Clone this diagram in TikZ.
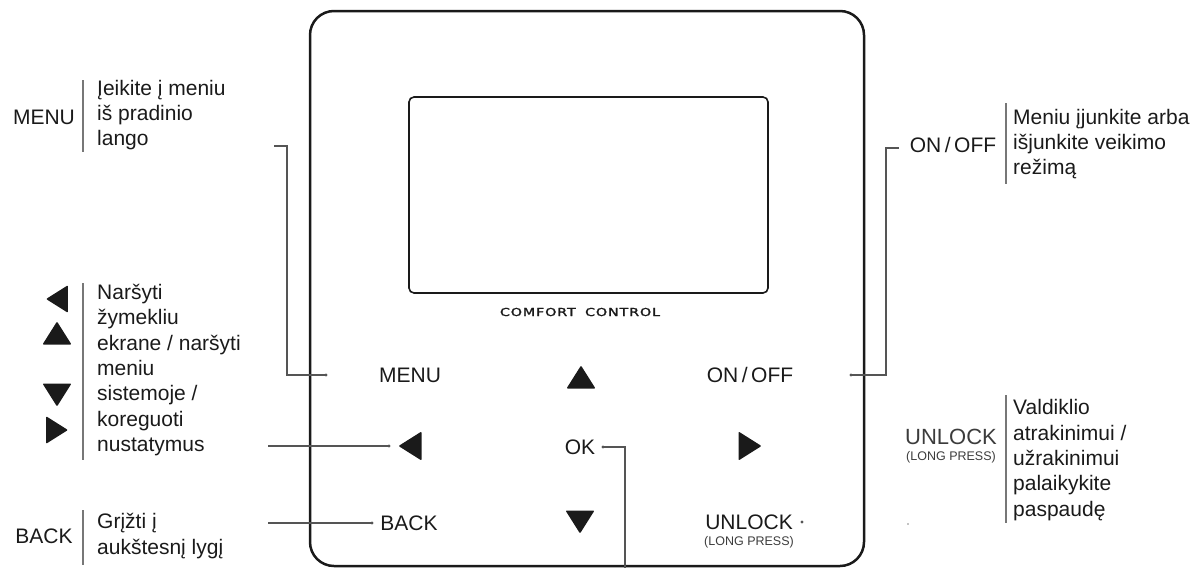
\documentclass[tikz,border=0pt]{standalone}
\usepackage{fontspec}
\setmainfont{Liberation Sans}
\newfontfamily\panelfont[LetterSpace=6, FakeBold=1.6]{DejaVu Sans}
\definecolor{ink}{HTML}{1A1A1A}
\definecolor{lead}{HTML}{555555}
\definecolor{sep}{HTML}{777777}
\definecolor{soft}{HTML}{3C3C3C}

\begin{document}
\begin{tikzpicture}[x=1pt,y=-1pt,
  lbl/.style={font=\fontsize{21}{25.3}\selectfont, text=ink, inner sep=0pt},
  desc/.style={lbl, align=left, anchor=west},
  small/.style={font=\fontsize{12.5}{14}\selectfont, text=soft, inner sep=0pt},
  body/.style={draw=ink, line width=2.5pt, rounded corners=24pt},
  screen/.style={draw=ink, line width=1.6pt, rounded corners=5pt},
  leader/.style={draw=lead, line width=1.1pt},
  divider/.style={draw=sep, line width=1.2pt},
  pics/tri/.style={code={\fill[ink, rounded corners=1pt] (11.5,0) -- (-11.5,14.5) -- (-11.5,-14.5) -- cycle;}},
]
\useasboundingbox (0,0) rectangle (1198,568);

% controller body and display
\draw[body] (310,11) rectangle (864,566);
\draw[screen] (409,97) rectangle (768,293);
\node[inner sep=0pt, text=ink] (brand) at (580,312)
  {\scalebox{1.3}[1]{\panelfont\fontsize{11}{12}\selectfont COMFORT\hspace{3pt} CONTROL}};

% buttons on the panel
\node[lbl] (dMenu) at (410,375) {MENU};
\pic at (581,377) [rotate=90] {tri};
\node[lbl] (dOnOff) at (750,375) {ON\,/\,OFF};
\pic at (410,446) [rotate=180] {tri};
\node[lbl] (dOK) at (580,447) {OK};
\pic at (750,446) {tri};
\node[lbl] (dBack) at (409,523) {BACK};
\pic at (580,522) [rotate=-90] {tri};
\node[lbl] (dUnlock) at (749,522) {UNLOCK};
\node[small] (dLong) at (749,542) {(LONG PRESS)};

% leader end points
\coordinate (mMenu) at (326,375);
\coordinate (mLeft) at (389,446);
\coordinate (mBack) at (372,523);
\coordinate (mOK) at (603,447);
\coordinate (mOnOff) at (851,375);
\coordinate (mUnlock) at (802,522);
\coordinate (menuTick) at (274,146);
\coordinate (menuCorner) at (287,146);
\coordinate (onTick) at (899,148);
\coordinate (onCorner) at (886,148);
\coordinate (leftStart) at (268,446);
\coordinate (backStart) at (268,523);
\coordinate (okEnd) at (625,568);

% leaders
\draw[leader] (menuTick) -- (menuCorner) |- (mMenu);
\draw[leader] (onTick) -- (onCorner) |- (mOnOff);
\draw[leader] (leftStart) -- (mLeft);
\draw[leader] (backStart) -- (mBack);
\draw[leader] (mOK) -| (okEnd);
\foreach \p in {mMenu,mLeft,mBack,mOK,mOnOff,mUnlock}
  \fill[lead] (\p) circle (1.6pt);
\fill[lead!70] (908,524) circle (0.8pt);

% left legend
\node[lbl] (lMenu) at (44,117) {MENU};
\draw[divider] (83,80) -- (83,152);
\node[desc] (tMenu) at (97,115) {Įeikite į meniu\\iš pradinio\\lango};

\pic at (57,299) [rotate=180, scale=0.95] {tri};
\pic at (57,333) [rotate=90] {tri};
\pic at (57,395) [rotate=-90] {tri};
\pic at (57,430) [scale=0.95] {tri};
\draw[divider] (83,283) -- (83,460);
\node[desc] (tNav) at (97,370) {Naršyti\\žymekliu\\ekrane / naršyti\\meniu\\sistemoje /\\koreguoti\\nustatymus};

\node[lbl] (lBack) at (44,536) {BACK};
\draw[divider] (83,510) -- (83,565);
\node[desc] (tBack) at (97,536) {Grįžti į\\aukštesnį lygį};

% right legend
\node[lbl] (lOnOff) at (953,145) {ON\,/\,OFF};
\draw[divider] (1006,103) -- (1006,184);
\node[desc] (tOnOff) at (1013,144) {Meniu įjunkite arba\\išjunkite veikimo\\režimą};

\node[lbl, text=soft, font=\fontsize{22}{25}\selectfont] (lUnlock) at (951,437) {UNLOCK};
\node[small] (lLong) at (951,457) {(LONG PRESS)};
\draw[divider] (1006,395) -- (1006,523);
\node[desc] (tUnlock) at (1013,460) {Valdiklio\\atrakinimui /\\užrakinimui\\palaikykite\\paspaudę};
\end{tikzpicture}
\end{document}
